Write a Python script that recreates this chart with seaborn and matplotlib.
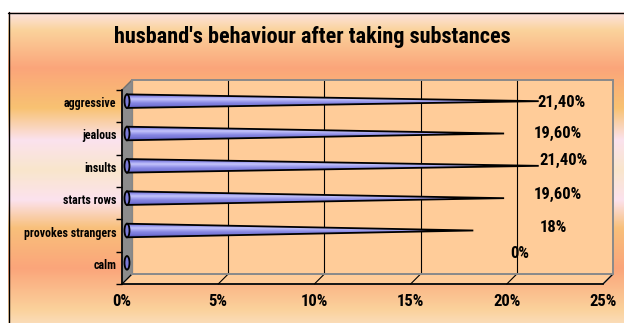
import numpy as np
import pandas as pd
import matplotlib
matplotlib.use("Agg")
import matplotlib.pyplot as plt
import seaborn as sns
from matplotlib.colors import to_rgb
from matplotlib.patches import Polygon, Ellipse
from matplotlib.transforms import ScaledTranslation

# ---- data ----
categories = ["aggressive", "jealous", "insults", "starts rows", "provokes strangers", "calm"]
shares = [21.4, 19.6, 21.4, 19.6, 18.0, 0.0]
value_labels = ["21,40%", "19,60%", "21,40%", "19,60%", "18%", "0%"]
x_ticks = [0, 5, 10, 15, 20, 25]
x_tick_labels = ["0%", "5%", "10%", "15%", "20%", "25%"]
title = "husband's behaviour after taking substances"

W, H, DPI = 624, 323, 100

sns.set_theme(style="white")
plt.rcParams["font.family"] = ["Roboto Condensed", "Archivo Narrow", "DejaVu Sans"]
plt.rcParams["text.color"] = "black"
plt.rcParams["xtick.color"] = "black"
plt.rcParams["ytick.color"] = "black"

fig = plt.figure(figsize=(W / DPI, H / DPI), dpi=DPI)


def px_box(x0, y0, x1, y1):
    """Pixel rectangle (origin top-left) -> figure-fraction axes rect."""
    return [x0 / W, 1 - y1 / H, (x1 - x0) / W, (y1 - y0) / H]


def px_shift(dx, dy):
    return ScaledTranslation(dx / DPI, -dy / DPI, fig.dpi_scale_trans)


# ---- chart area background (vertical multi-stop gradient) ----
bg = fig.add_axes([0, 0, 1, 1], zorder=0)
bg.set_xlim(0, W)
bg.set_ylim(H, 0)
bg.axis("off")
stops = [(12, "#fde4e4"), (30, "#fad39c"), (68, "#fba57a"), (108, "#f8c272"),
         (140, "#fbe2ee"), (170, "#f9e6cc"), (200, "#fce2ee"), (228, "#f8c07a"),
         (268, "#fba57a"), (310, "#fad29c"), (323, "#fbdcb8")]
rows = np.arange(H) + 0.5
stop_pos = [p for p, _ in stops]
stop_rgb = np.array([to_rgb(c) for _, c in stops])
grad = np.stack([np.interp(rows, stop_pos, stop_rgb[:, k]) for k in range(3)], axis=-1)
canvas = np.ones((H, W, 3))
canvas[12:, 8:, :] = grad[12:, None, :]
bg.imshow(canvas, extent=(0, W, H, 0), aspect="auto", interpolation="nearest")
bg.plot([8.5, 8.5], [12, H], color="black", lw=1)
bg.plot([8, W], [12.5, 12.5], color="black", lw=1)

# ---- 3D frame geometry (back wall, depth offset) ----
BX0, BY0, BX1, BY1 = 132, 80, 613, 274
DX, DY = -10, 10

side = Polygon([(BX0 + DX, BY0 + DY), (BX0, BY0), (BX0, BY1), (BX0 + DX, BY1 + DY)],
               closed=True, facecolor="#8c8c8c", edgecolor="#707070", lw=1, zorder=2)
bg.add_patch(side)
floor = Polygon([(BX0 + DX, BY1 + DY), (BX0, BY1), (BX1, BY1), (BX1 + DX, BY1 + DY)],
                closed=True, facecolor="#ffcc99", edgecolor="#8a8a8a", lw=1.2, zorder=2)
bg.add_patch(floor)
for v in x_ticks:
    xb = BX0 + v * (BX1 - BX0) / x_ticks[-1]
    bg.plot([xb, xb + DX], [BY1, BY1 + DY], color="black", lw=0.8, zorder=3)

# ---- back wall axes with the cones ----
ax = fig.add_axes(px_box(BX0, BY0, BX1, BY1), zorder=1)
ax.set_facecolor("#ffcc99")
df = pd.DataFrame({"behaviour": categories, "share": shares})
sns.barplot(data=df, x="share", y="behaviour", orient="h", width=0.42,
            color="#8c8ce6", ax=ax)
ax.set_xlim(x_ticks[0], x_ticks[-1])
ylim = ax.get_ylim()
ax.set_xticks(x_ticks)
ax.set_xticklabels([])
ax.set_yticks([])
ax.set_xlabel("")
ax.set_ylabel("")
ax.tick_params(length=0)
ax.grid(axis="x", color="black", lw=0.8)
ax.grid(axis="y", visible=False)
for s in ax.spines.values():
    s.set_color("#8a8a8a")
    s.set_linewidth(1.4)

cone_trans = ax.transData + px_shift(-5, 5)
cone_grad = np.array([to_rgb(c) for c in
                      ["#6a6ad0", "#9a9aee", "#c4c4fa", "#a4a4f0",
                       "#8686e2", "#7a7ada", "#6262c4"]])[:, None, :]
px_per_unit = (BX1 - BX0) / (x_ticks[-1] - x_ticks[0])
ell_w = 5 / px_per_unit

for bar in list(ax.patches):
    x0, y0 = bar.get_x(), bar.get_y()
    w, h = bar.get_width(), bar.get_height()
    yc = y0 + h / 2
    bar.set_visible(False)
    if w > 0:
        outline = [(x0, y0), (x0 + w, yc), (x0, y0 + h)]
        cone = Polygon(outline, closed=True, facecolor="none", edgecolor="black",
                       lw=1.3, transform=cone_trans, zorder=4, clip_on=False)
        ax.add_patch(cone)
        clip = Polygon(outline, closed=True, transform=cone_trans, visible=False)
        ax.add_patch(clip)
        im = ax.imshow(cone_grad, extent=(x0, x0 + w, y0 + h, y0), aspect="auto",
                       interpolation="bilinear", transform=cone_trans, zorder=3)
        im.set_clip_box(fig.bbox)
        im.set_clip_path(clip)
    base = Ellipse((x0, yc), width=ell_w, height=h, facecolor="#7c7cd8",
                   edgecolor="black", lw=1.3, transform=cone_trans, zorder=5,
                   clip_on=False)
    ax.add_patch(base)

ax.set_xlim(x_ticks[0], x_ticks[-1])
ax.set_ylim(ylim)

# ---- front axes: category and percentage axes ----
fa = fig.add_axes(px_box(BX0 + DX, BY0 + DY, BX1 + DX, BY1 + DY), zorder=3)
fa.patch.set_alpha(0)
fa.set_xlim(x_ticks[0], x_ticks[-1])
fa.set_ylim(ylim)
for k in ("top", "right"):
    fa.spines[k].set_visible(False)
for k in ("left", "bottom"):
    fa.spines[k].set_color("black")
    fa.spines[k].set_linewidth(1.2)
fa.set_xticks(x_ticks)
fa.set_xticklabels(x_tick_labels, fontsize=12, fontweight="bold")
fa.set_yticks(range(len(categories)))
fa.set_yticklabels(categories, fontsize=8.6, fontweight="bold")
fa.set_yticks([i - 0.5 for i in range(len(categories) + 1)], minor=True)
fa.tick_params(axis="x", which="major", direction="out", length=3, width=1,
               color="black", pad=4)
fa.tick_params(axis="y", which="major", length=0, pad=4)
fa.tick_params(axis="y", which="minor", direction="out", length=4, width=1,
               color="black", left=True)
for lab in fa.get_yticklabels():
    lab.set_transform(lab.get_transform() + px_shift(0, -4))

# ---- value labels and title on a transparent overlay ----
top = fig.add_axes([0, 0, 1, 1], zorder=5)
top.set_xlim(0, W)
top.set_ylim(H, 0)
top.axis("off")
label_anchor = [(562, 102), (558, 133), (563, 160), (558, 194), (553, 227), (520, 253)]
for (lx, ly), txt in zip(label_anchor, value_labels):
    top.text(lx, ly, txt, ha="center", va="center", fontsize=12, fontweight="bold")

top.text(312, 37, title, ha="center", va="center", fontsize=16, fontweight="bold")

fig.savefig("out.png", dpi=DPI)
